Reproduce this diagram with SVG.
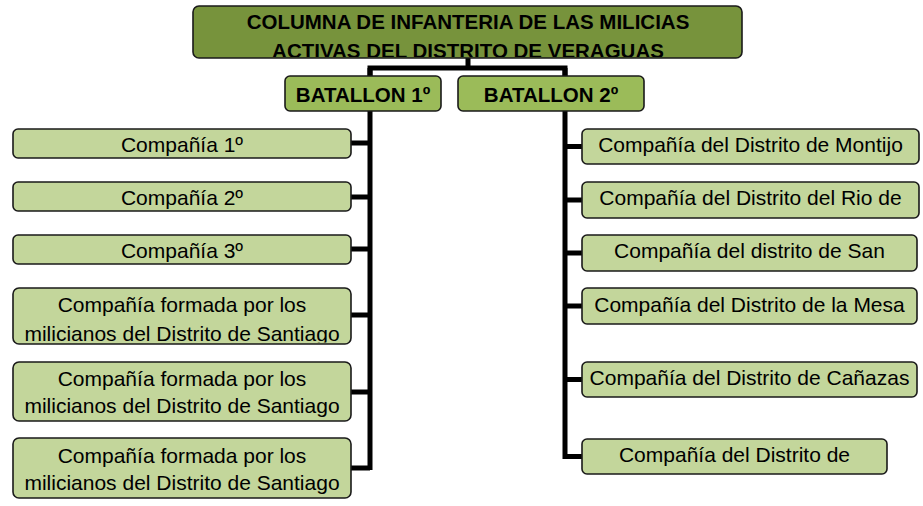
<svg xmlns="http://www.w3.org/2000/svg" width="923" height="506" viewBox="0 0 923 506">
<style>
.box{stroke:#1a1a1a;stroke-width:1.6}
.top{fill:#77933c}
.bat{fill:#9bbb59}
.co{fill:#c3d69b}
text{font-family:"Liberation Sans",Arial,sans-serif;fill:#000;text-anchor:middle}
.b{font-weight:bold;font-size:20.5px}
.r{font-size:21px}
.con{fill:none;stroke:#000;stroke-width:5;stroke-linejoin:miter}
</style>
<defs>
<clipPath id="cTop"><rect x="194" y="7" width="547" height="50"/></clipPath>
<clipPath id="cL4"><rect x="14" y="289" width="336" height="53.5"/></clipPath>
</defs>
<g id="connectors">
<path class="con" d="M468 58V68M370 76V68H565V76"/>
<path class="con" d="M370 68V470"/>
<path class="con" d="M351 143H370M351 197H370M351 249H370M351 315H370M351 392H370M351 468H370"/>
<path class="con" d="M565 68V459"/>
<path class="con" d="M565 146.5H582M565 200H582M565 253H582M565 306H582M565 379.5H582M565 456.5H582"/>
</g>
<g id="n0">
<rect class="box top" x="193" y="6" width="549" height="52" rx="6"/>
<g clip-path="url(#cTop)">
<text class="b" x="468" y="29">COLUMNA DE INFANTERIA DE LAS MILICIAS</text>
<text class="b" x="468" y="58">ACTIVAS DEL DISTRITO DE VERAGUAS</text>
</g>
</g>
<g id="b1">
<rect class="box bat" x="285" y="76" width="156" height="35" rx="5"/>
<text class="b" x="363" y="102">BATALLON 1º</text>
</g>
<g id="b2">
<rect class="box bat" x="458" y="76" width="186" height="35" rx="5"/>
<text class="b" x="551" y="102">BATALLON 2º</text>
</g>
<g id="l1">
<rect class="box co" x="13" y="129" width="338" height="29" rx="5"/>
<text class="r" x="182" y="151.5">Compañía 1º</text>
</g>
<g id="l2">
<rect class="box co" x="13" y="182" width="338" height="29" rx="5"/>
<text class="r" x="182" y="204.5">Compañía 2º</text>
</g>
<g id="l3">
<rect class="box co" x="13" y="235" width="338" height="29" rx="5"/>
<text class="r" x="182" y="257.5">Compañía 3º</text>
</g>
<g id="l4">
<rect class="box co" x="13" y="288" width="338" height="56" rx="6"/>
<g clip-path="url(#cL4)">
<text class="r" x="182" y="312">Compañía formada por los</text>
<text class="r" x="182" y="341">milicianos del Distrito de Santiago</text>
</g>
</g>
<g id="l5">
<rect class="box co" x="13" y="362" width="338" height="59" rx="6"/>
<text class="r" x="182" y="386">Compañía formada por los</text>
<text class="r" x="182" y="413">milicianos del Distrito de Santiago</text>
</g>
<g id="l6">
<rect class="box co" x="13" y="438" width="338" height="60" rx="6"/>
<text class="r" x="182" y="462.5">Compañía formada por los</text>
<text class="r" x="182" y="490">milicianos del Distrito de Santiago</text>
</g>
<g id="r1">
<rect class="box co" x="582" y="129" width="337" height="35" rx="5"/>
<text class="r" x="750.5" y="151.5">Compañía del Distrito de Montijo</text>
</g>
<g id="r2">
<rect class="box co" x="582" y="182" width="337" height="36" rx="5"/>
<text class="r" x="750.5" y="204.5">Compañía del Distrito del Rio de</text>
</g>
<g id="r3">
<rect class="box co" x="582" y="235" width="335" height="36" rx="5"/>
<text class="r" x="749.5" y="257.5">Compañía del distrito de San</text>
</g>
<g id="r4">
<rect class="box co" x="582" y="288" width="335" height="36" rx="5"/>
<text class="r" x="749.5" y="312">Compañía del Distrito de la Mesa</text>
</g>
<g id="r5">
<rect class="box co" x="582" y="362" width="335" height="35" rx="5"/>
<text class="r" x="749.5" y="385">Compañía del Distrito de Cañazas</text>
</g>
<g id="r6">
<rect class="box co" x="582" y="439" width="305" height="35" rx="5"/>
<text class="r" x="734.5" y="461.5">Compañía del Distrito de</text>
</g>
</svg>
